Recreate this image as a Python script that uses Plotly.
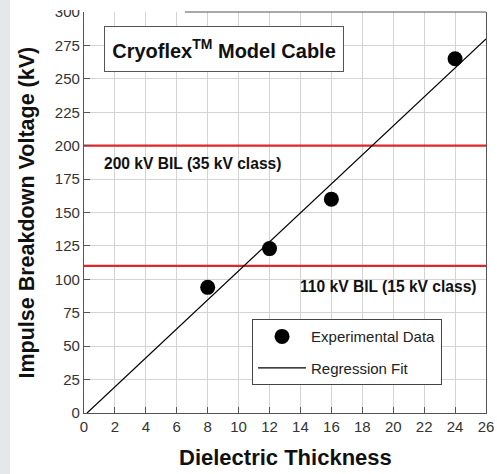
import numpy as np
import plotly.graph_objects as go

# Data
thickness = [8, 12, 16, 24]
breakdown_kv = [94, 123, 160, 265]
bil_levels = [200, 110]
bil_labels = ["200 kV BIL (35 kV class)", "110 kV BIL (15 kV class)"]
x_max = 26
x_ticks = list(range(0, 27, 2))
y_ticks = list(range(0, 301, 25))

# Regression (least squares)
slope, intercept = np.polyfit(thickness, breakdown_kv, 1)
x0 = -intercept / slope
fit_x = [x0, x_max]
fit_y = [slope * v + intercept for v in fit_x]

FONT = "Liberation Sans, Arial, sans-serif"

fig = go.Figure()

for lvl in bil_levels:
    fig.add_trace(go.Scatter(x=[0, x_max], y=[lvl, lvl], mode="lines",
                             line=dict(color="#e0262b", width=2.2),
                             showlegend=False, hoverinfo="skip"))

fig.add_trace(go.Scatter(x=fit_x, y=fit_y, mode="lines",
                         line=dict(color="black", width=1.2),
                         name="Regression Fit", legendgroup="b", legendrank=2))

fig.add_trace(go.Scatter(x=thickness, y=breakdown_kv, mode="markers",
                         marker=dict(color="black", size=15),
                         name="Experimental Data", legendgroup="a", legendrank=1))

fig.update_layout(
    width=497, height=474,
    margin=dict(l=84, r=11, t=12, b=61, autoexpand=False),
    paper_bgcolor="white", plot_bgcolor="white",
    font=dict(family=FONT, color="#333333", size=15),
    legend=dict(
        x=0.418, y=0.234, xanchor="left", yanchor="top",
        bordercolor="#444444", borderwidth=1, bgcolor="white",
        font=dict(size=15, color="#222222", family=FONT),
        tracegroupgap=9, itemwidth=48, entrywidth=184,
    ),
    xaxis=dict(range=[0, x_max], tickvals=x_ticks, showgrid=True,
               gridcolor="#d4d4d4", gridwidth=1, zeroline=False,
               showline=True, linecolor="#555555", linewidth=1.2, mirror=False,
               ticks="inside", ticklen=6, tickcolor="#555555",
               ticklabeloverflow="allow", automargin=False),
    yaxis=dict(range=[0, 300], tickvals=y_ticks, showgrid=True,
               gridcolor="#d4d4d4", gridwidth=1, zeroline=False,
               showline=True, linecolor="#555555", linewidth=1.2, mirror=True,
               ticks="inside", ticklen=6, tickcolor="#555555",
               ticklabeloverflow="allow", automargin=False),
)

annotations = [
    dict(text="Dielectric Thickness", xref="paper", yref="paper", x=0.5, y=0,
         yshift=-44, showarrow=False, yanchor="middle",
         font=dict(size=22, family=FONT, color="#111111", weight="bold")),
    dict(text="Impulse Breakdown Voltage (kV)", xref="paper", yref="paper", x=0, y=0.5,
         xshift=-58, showarrow=False, textangle=-90, xanchor="center",
         font=dict(size=21.5, family=FONT, color="#111111", weight="bold")),
    dict(text="Cryoflex<sup>TM</sup> Model Cable", x=9.08, y=272, showarrow=False,
         bordercolor="#555555", borderwidth=1, bgcolor="white",
         width=236, height=42,
         font=dict(size=20, family=FONT, color="#111111", weight="bold")),
    dict(text=bil_labels[0], x=1.15, y=187, showarrow=False,
         xanchor="left", font=dict(size=15.6, family=FONT, color="#111111", weight="bold")),
    dict(text=bil_labels[1], x=25.55, y=94.8, showarrow=False,
         xanchor="right", font=dict(size=15.6, family=FONT, color="#111111", weight="bold")),
]
fig.update_layout(annotations=annotations)

fig.update_layout(shapes=[
    dict(type="rect", xref="paper", yref="paper", x0=-0.25, x1=-0.184, y0=-0.3, y1=1.1,
         fillcolor="#e6e7e9", line=dict(width=0), layer="below"),
    dict(type="rect", xref="paper", yref="paper", x0=-0.184, x1=1.1, y0=1.005, y1=1.1,
         fillcolor="white", line=dict(width=0), layer="above"),
    dict(type="line", xref="paper", yref="paper", x0=0.251, x1=1, y0=1, y1=1,
         line=dict(color="#555555", width=1.2), layer="above"),
])

fig.write_html("out.html", config={"displayModeBar": False},
               post_script="document.body.style.margin='0';document.body.style.overflow='hidden';")
